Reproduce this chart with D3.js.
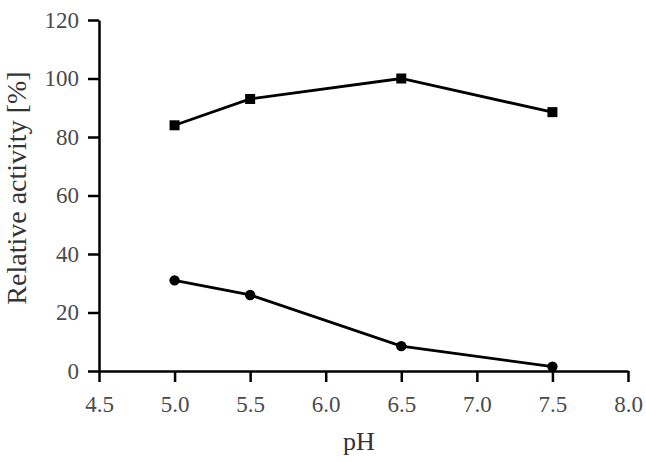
<!DOCTYPE html>
<html>
<head>
<meta charset="utf-8">
<script src="https://cdn.jsdelivr.net/npm/d3@7"></script>
<style>
  body { margin: 0; background: #fff; }
  .axis text { font-family: "Liberation Serif", "Times New Roman", serif; font-size: 23px; fill: #4a4a4a; }
  .axis path, .axis line { stroke: #000; stroke-width: 2.5px; }
  .title { font-family: "Liberation Serif", "Times New Roman", serif; fill: #333; }
</style>
</head>
<body>
<div id="chart"></div>
<script>
// data
var phValues = [5.0, 5.5, 6.5, 7.5];
var squareSeries = [84, 93, 100, 88.5];
var circleSeries = [31, 26, 8.5, 1.5];
var xTicks = [4.5, 5.0, 5.5, 6.0, 6.5, 7.0, 7.5, 8.0];
var yTicks = [0, 20, 40, 60, 80, 100, 120];

var attrs = {
  svgWidth: 646,
  svgHeight: 462,
  left: 99,
  right: 628,
  top: 20,
  bottom: 371
};

var x = d3.scaleLinear().domain([4.5, 8.0]).range([attrs.left, attrs.right]);
var y = d3.scaleLinear().domain([0, 120]).range([attrs.bottom, attrs.top]);

var svg = d3.select("#chart").append("svg")
  .attr("width", attrs.svgWidth)
  .attr("height", attrs.svgHeight);

// axes
svg.append("g")
  .attr("class", "axis")
  .attr("transform", "translate(0," + attrs.bottom + ")")
  .call(d3.axisBottom(x).tickValues(xTicks).tickFormat(d3.format(".1f")).tickSize(11).tickSizeOuter(0).tickPadding(14));

svg.append("g")
  .attr("class", "axis")
  .attr("transform", "translate(" + attrs.left + ",0)")
  .call(d3.axisLeft(y).tickValues(yTicks).tickSize(11).tickSizeOuter(0).tickPadding(9));

// lines
var line = d3.line()
  .x(function(d, i) { return x(phValues[i]); })
  .y(function(d) { return y(d); });

[squareSeries, circleSeries].forEach(function(s) {
  svg.append("path")
    .attr("d", line(s))
    .attr("fill", "none")
    .attr("stroke", "#000")
    .attr("stroke-width", 2.8);
});

// markers
svg.selectAll(".sq").data(squareSeries).enter().append("rect")
  .attr("class", "sq")
  .attr("x", function(d, i) { return x(phValues[i]) - 5; })
  .attr("y", function(d) { return y(d) - 5; })
  .attr("width", 10)
  .attr("height", 10)
  .attr("fill", "#000");

svg.selectAll(".ci").data(circleSeries).enter().append("circle")
  .attr("class", "ci")
  .attr("cx", function(d, i) { return x(phValues[i]); })
  .attr("cy", function(d) { return y(d); })
  .attr("r", 5.2)
  .attr("fill", "#000");

// titles
svg.append("text")
  .attr("class", "title")
  .attr("x", 359)
  .attr("y", 450)
  .attr("text-anchor", "middle")
  .style("font-size", "26px")
  .text("pH");

svg.append("text")
  .attr("class", "title")
  .attr("transform", "translate(26," + 188 + ") rotate(-90)")
  .attr("text-anchor", "middle")
  .style("font-size", "28px")
  .text("Relative activity [%]");
</script>
</body>
</html>
